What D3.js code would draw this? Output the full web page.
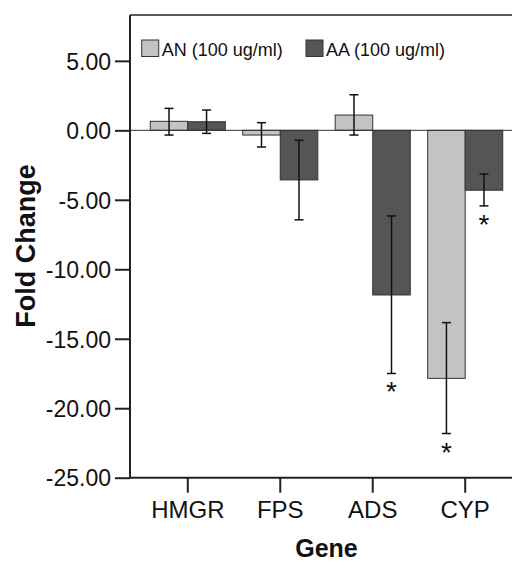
<!DOCTYPE html>
<html>
<head>
<meta charset="utf-8">
<script src="https://cdn.jsdelivr.net/npm/d3@7"></script>
<style>
  body { margin: 0; background: #fff; }
  svg { display: block; font-family: "Liberation Sans", Arial, sans-serif; }
</style>
</head>
<body>
<div class="viewbox"></div>
<script>
  // data
  const genes = ["HMGR", "FPS", "ADS", "CYP"];
  const series = ["AN (100 ug/ml)", "AA (100 ug/ml)"];
  const anMean = [0.65, -0.34, 1.1, -17.85];
  const anLow = [-0.34, -1.2, -0.34, -21.82];
  const anHigh = [1.58, 0.55, 2.56, -13.84];
  const aaMean = [0.62, -3.57, -11.85, -4.31];
  const aaLow = [-0.22, -6.44, -17.5, -5.44];
  const aaHigh = [1.46, -0.72, -6.16, -3.14];
  const anStar = [false, false, false, true];
  const aaStar = [false, false, true, true];
  const yTicks = [5, 0, -5, -10, -15, -20, -25];

  const COLORS = ["#c3c3c3", "#555555"];
  const svg_width = 512;
  const svg_height = 561;

  let svg = d3.select(".viewbox")
    .append("svg")
    .attr("width", svg_width)
    .attr("height", svg_height)

  const plotL = 130, plotR = 523, plotT = 15, plotB = 477.7;

  let x0 = d3.scaleBand().domain(genes).range([plotL, plotR]).paddingOuter(0.125).paddingInner(0);
  let x1 = d3.scaleBand().domain(series).range([0, x0.bandwidth()]).paddingOuter(0.232).paddingInner(0);
  let y = d3.scaleLinear().domain([-25, 8.3]).range([plotB, plotT]);

  // build rows for the bars
  let rows = [];
  genes.forEach((g, i) => {
    rows.push({ gene: g, s: series[0], v: anMean[i], lo: anLow[i], hi: anHigh[i], star: anStar[i], c: COLORS[0] });
    rows.push({ gene: g, s: series[1], v: aaMean[i], lo: aaLow[i], hi: aaHigh[i], star: aaStar[i], c: COLORS[1] });
  });

  // frame top line
  svg.append("line")
    .attr("x1", plotL).attr("x2", plotR)
    .attr("y1", plotT).attr("y2", plotT)
    .attr("stroke", "#222").attr("stroke-width", 1.5)

  // bars
  svg.selectAll("rect.bar")
    .data(rows)
    .enter()
    .append("rect")
    .attr("class", "bar")
    .attr("x", d => x0(d.gene) + x1(d.s))
    .attr("width", x1.bandwidth())
    .attr("y", d => y(Math.max(0, d.v)))
    .attr("height", d => Math.abs(y(d.v) - y(0)))
    .attr("fill", d => d.c)
    .attr("stroke", "#333")
    .attr("stroke-width", 1)

  // zero line
  svg.append("line")
    .attr("x1", plotL).attr("x2", plotR)
    .attr("y1", y(0)).attr("y2", y(0))
    .attr("stroke", "#333").attr("stroke-width", 1)

  // error bars
  let cx = d => x0(d.gene) + x1(d.s) + x1.bandwidth() / 2;
  let err = svg.selectAll("g.err")
    .data(rows)
    .enter()
    .append("g")
    .attr("class", "err")
    .attr("stroke", "#111")
    .attr("stroke-width", 1.5)
  err.append("line")
    .attr("x1", cx).attr("x2", cx)
    .attr("y1", d => y(d.lo)).attr("y2", d => y(d.hi))
  err.append("line")
    .attr("x1", d => cx(d) - 4.5).attr("x2", d => cx(d) + 4.5)
    .attr("y1", d => y(d.lo)).attr("y2", d => y(d.lo))
  err.append("line")
    .attr("x1", d => cx(d) - 4.5).attr("x2", d => cx(d) + 4.5)
    .attr("y1", d => y(d.hi)).attr("y2", d => y(d.hi))

  // significance stars
  svg.selectAll("text.star")
    .data(rows.filter(d => d.star))
    .enter()
    .append("text")
    .attr("class", "star")
    .attr("x", cx)
    .attr("y", d => y(d.lo) + 28)
    .attr("text-anchor", "middle")
    .style("font-size", "28px")
    .attr("fill", "#111")
    .text("*")

  // y axis (hyphen minus like the original, not the unicode minus)
  let yAxis = svg.append("g")
    .attr("transform", `translate(${plotL},0)`)
    .call(d3.axisLeft(y).tickValues(yTicks).tickFormat(d => d.toFixed(2)).tickSize(15).tickPadding(4))
  yAxis.select(".domain").attr("d", `M0,${plotT}V${plotB}`).attr("stroke", "#222").attr("stroke-width", 2)
  yAxis.selectAll(".tick line").attr("stroke", "#222").attr("stroke-width", 2)
  yAxis.selectAll(".tick text")
    .style("font-size", "23px")
    .style("font-family", "'Liberation Sans', Arial, sans-serif")
    .attr("fill", "#111")
    .attr("dy", "0.36em")

  // x axis
  let xAxis = svg.append("g")
    .attr("transform", `translate(0,${plotB})`)
    .call(d3.axisBottom(x0).tickSize(15).tickPadding(8))
  xAxis.select(".domain").attr("d", `M${plotL},0H${plotR}`).attr("stroke", "#222").attr("stroke-width", 2)
  xAxis.selectAll(".tick line").attr("stroke", "#222").attr("stroke-width", 2)
  xAxis.selectAll(".tick text")
    .style("font-size", "24px")
    .style("font-family", "'Liberation Sans', Arial, sans-serif")
    .attr("fill", "#111")

  // axis titles
  svg.append("text")
    .attr("transform", "translate(35,246) rotate(-90)")
    .attr("text-anchor", "middle")
    .style("font-size", "27px")
    .style("font-weight", "bold")
    .attr("fill", "#111")
    .text("Fold Change")

  svg.append("text")
    .attr("x", (plotL + plotR) / 2)
    .attr("y", 557)
    .attr("text-anchor", "middle")
    .style("font-size", "25px")
    .style("font-weight", "bold")
    .attr("fill", "#111")
    .text("Gene")

  // legend
  let legendX = [141.7, 306];
  let legend = svg.selectAll("g.legend")
    .data(series)
    .enter()
    .append("g")
    .attr("class", "legend")
    .attr("transform", (d, i) => `translate(${legendX[i]},40)`)
  legend.append("rect")
    .attr("width", 17).attr("height", 16.5)
    .attr("fill", (d, i) => COLORS[i])
    .attr("stroke", "#333")
  legend.append("text")
    .attr("x", 20).attr("y", 15.5)
    .style("font-size", "18px")
    .attr("fill", "#111")
    .text(d => d)
</script>
</body>
</html>
